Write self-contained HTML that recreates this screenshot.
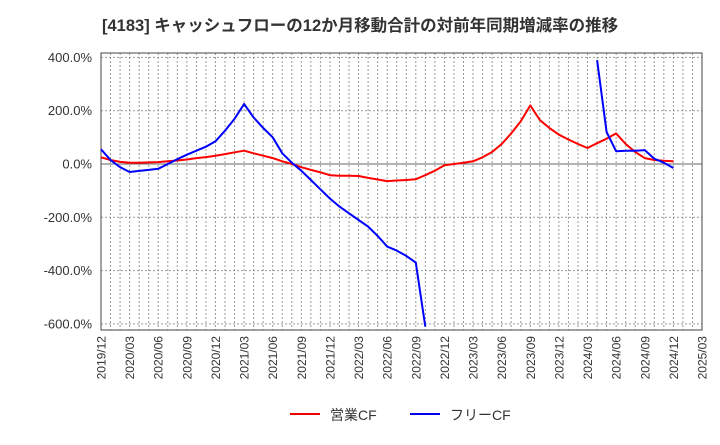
<!DOCTYPE html>
<html><head><meta charset="utf-8"><style>
body{margin:0;background:#fff;}
svg text{font-family:"Liberation Sans","Noto Sans CJK JP",sans-serif;}
</style></head><body>
<svg id="chart" width="720" height="440" xmlns="http://www.w3.org/2000/svg">
<text x="102" y="31" font-size="16.5" font-weight="bold" fill="#333">[4183]  キャッシュフローの12か月移動合計の対前年同期増減率の推移</text>
<g id="grid"></g><g id="axes"></g><g id="series"></g>
<g>
<line x1="290" y1="414" x2="320" y2="414" stroke="#e00" stroke-width="2"/>
<text x="330" y="420" font-size="14" fill="#333">営業CF</text>
<line x1="410" y1="414" x2="440" y2="414" stroke="#00e" stroke-width="2"/>
<text x="450" y="420" font-size="14" fill="#333">フリーCF</text>
</g>
</svg>
<script>
const xTickLabels=["2019/12","2020/03","2020/06","2020/09","2020/12","2021/03","2021/06","2021/09","2021/12","2022/03","2022/06","2022/09","2022/12","2023/03","2023/06","2023/09","2023/12","2024/03","2024/06","2024/09","2024/12","2025/03"];
const yTicks=[400,200,0,-200,-400,-600];
const operatingCF=[25,15,8,5,5,6,7,10,13,17,22,26,31,37,44,50,40,31,22,10,0,-12,-22,-31,-42,-44,-44,-45,-52,-58,-64,-62,-60,-57,-42,-25,-5,0,5,10,25,45,75,115,160,220,165,135,110,92,75,60,78,95,115,75,45,22,15,12,10];
const freeCF=[55,15,-12,-30,-26,-22,-18,0,18,35,50,65,85,125,170,225,175,135,100,40,5,-25,-60,-95,-130,-160,-185,-210,-235,-270,-310,-325,-345,-370,-610,null,null,null,null,null,null,null,null,null,null,null,null,null,null,null,null,null,390,120,48,50,50,52,20,5,-15];
const L=101,R=702,T=53,B=330;
const x=m=>L+(R-L)*m/63;
const y=v=>164-v*(53.3/200);
const NS="http://www.w3.org/2000/svg";
function mk(p,t,a){const e=document.createElementNS(NS,t);for(const k in a)e.setAttribute(k,a[k]);p.appendChild(e);return e;}
const grid=document.getElementById('grid'),axes=document.getElementById('axes'),series=document.getElementById('series');
for(let m=1;m<63;m++){const l=mk(grid,'line',{x1:x(m),x2:x(m),y1:T,y2:B,stroke:'#999','stroke-dasharray':'2,2','stroke-width':1});

}
yTicks.forEach(v=>{const l=mk(grid,'line',{x1:L,x2:R,y1:y(v),y2:y(v),stroke:v===0?'#666':'#999','stroke-dasharray':v===0?'none':'2,2','stroke-width':1});


const t=mk(axes,'text',{x:L-9,y:y(v)+4.5,'text-anchor':'end','font-size':13,fill:'#333'});t.textContent=v.toFixed(1)+'%';

});
xTickLabels.forEach((s,i)=>{const xx=x(i*3);const t=mk(axes,'text',{x:xx+4.5,y:B+6,'text-anchor':'end','font-size':12,fill:'#333',transform:`rotate(-90 ${xx+4.5} ${B+6})`});t.textContent=s;

});
const fr=mk(axes,'rect',{x:L,y:T,width:R-L,height:B-T,fill:'none',stroke:'#444','stroke-width':1});


function path(arr,col,name){let d='',pen=false;arr.forEach((v,i)=>{if(v===null){pen=false;return;}d+=(pen?'L':'M')+x(i).toFixed(1)+','+y(v).toFixed(1);pen=true;});
const p=mk(series,'path',{d:d,fill:'none',stroke:col,'stroke-width':2,'stroke-linejoin':'round'});

}
path(operatingCF,'#f00','operating-cf-line');
path(freeCF,'#00f','free-cf-line');
</script>
</body></html>
